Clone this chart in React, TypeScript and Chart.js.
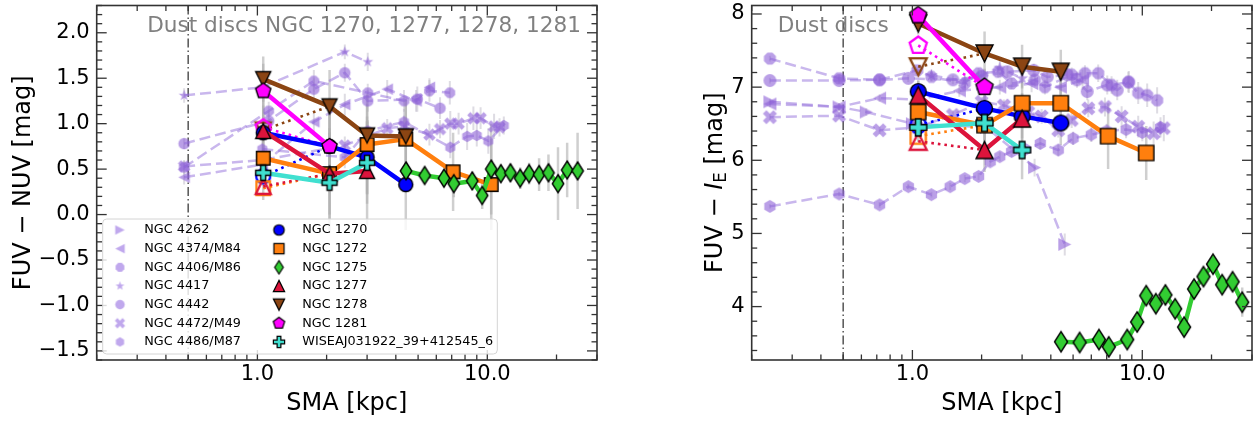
import React, { useEffect, useRef } from 'react';
import { Chart, registerables } from 'chart.js';

Chart.register(...registerables);
Chart.defaults.font.family = '"DejaVu Sans", sans-serif';

// ------------------------------------------------------------------ data
const VIRGO_NAMES = ['NGC 4262', 'NGC 4374/M84', 'NGC 4406/M86', 'NGC 4417', 'NGC 4442', 'NGC 4472/M49', 'NGC 4486/M87'];
const DUST_NAMES = ['NGC 1270', 'NGC 1272', 'NGC 1275', 'NGC 1277', 'NGC 1278', 'NGC 1281', 'WISEAJ031922_39+412545_6'];

const LEFT_TITLE = 'Dust discs NGC 1270, 1277, 1278, 1281';
const RIGHT_TITLE = 'Dust discs';
const X_TITLE = 'SMA [kpc]';

const SMA_LIMITS = [0.2, 30];
const SMA_MAJOR = [1, 10];
const SMA_MINOR = [0.2, 0.3, 0.4, 0.5, 0.6, 0.7, 0.8, 0.9, 2, 3, 4, 5, 6, 7, 8, 9, 20, 30];
const PSF_SMA = 0.5;

const NUV_LIMITS = [-1.6, 2.3];
const NUV_MAJOR = [-1.5, -1.0, -0.5, 0.0, 0.5, 1.0, 1.5, 2.0];
const IE_LIMITS = [3.27, 8.116];
const IE_MAJOR = [4, 5, 6, 7, 8];

// dust-disc galaxies (shared radii)
const SMA_DUST = [1.06, 2.06, 3.0, 4.42, 7.1, 10.4];
const SMA_1275 = [4.43, 5.34, 6.48, 7.15, 8.6, 9.5, 10.4, 11.45, 12.6, 13.9, 15.2, 16.8, 18.45, 20.3, 22.25, 24.7, 27.2];

// FUV - NUV
const NUV_1270 = [0.90, 0.75, 0.63, 0.33];
const NUV_1272 = [0.62, 0.45, 0.77, 0.83, 0.47, 0.33];
const NUV_1275 = [0.48, 0.43, 0.40, 0.34, 0.37, 0.21, 0.50, 0.45, 0.46, 0.40, 0.45, 0.44, 0.46, 0.34, 0.49, 0.48, null];
const NUV_1277 = [0.92, 0.45, 0.48];
const NUV_1278 = [1.49, 1.19, 0.87, 0.86];
const NUV_1281 = [1.36, 0.75];
const NUV_WISEA = [0.46, 0.35, 0.57];
const NUV_INNER = [0.42, 0.29, null, 0.31, 0.93, 0.96, null];

const NUV_ERR_1270 = [0.30, 0.45, 0.40, 0.50];
const NUV_ERR_1272 = [0.30, 0.45, 0.55, 0.45, 0.43, 0.50];
const NUV_ERR_1275 = [0.10, 0.08, 0.10, 0.15, 0.10, 0.15, 0.50, 0.10, 0.10, 0.12, 0.12, 0.18, 0.20, 0.40, 0.30, 0.42, null];
const NUV_ERR_1277 = [0.35, 0.50, 0.60];
const NUV_ERR_1278 = [0.25, 0.40, 0.35, 0.40];
const NUV_ERR_1281 = [0.30, 0.45];
const NUV_ERR_WISEA = [0.30, 0.55, 0.45];

// FUV - I_E
const IE_1270 = [6.94, 6.71, 6.60, 6.51];
const IE_1272 = [6.66, 6.48, 6.78, 6.78, 6.33, 6.10];
const IE_1275 = [3.52, 3.51, 3.55, 3.45, 3.55, 3.79, 4.15, 4.04, 4.16, 3.97, 3.72, 4.24, 4.41, 4.58, 4.30, 4.34, 4.06];
const IE_1277 = [6.89, 6.14, 6.57];
const IE_1278 = [7.87, 7.46, 7.28, 7.21];
const IE_1281 = [7.98, 7.00];
const IE_WISEA = [6.45, 6.51, 6.14];
const IE_INNER = [6.48, 6.33, null, 6.26, 7.28, 7.57, null];

const IE_ERR_1270 = [0.15, 0.25, 0.30, 0.30];
const IE_ERR_1272 = [0.15, 0.25, 0.30, 0.35, 0.45, 0.37];
const IE_ERR_1275 = [0.03, 0.03, 0.04, 0.03, 0.04, 0.05, 0.05, 0.04, 0.05, 0.05, 0.06, 0.08, 0.10, 0.12, 0.10, 0.12, 0.20];
const IE_ERR_1277 = [0.20, 0.30, 0.35];
const IE_ERR_1278 = [0.15, 0.30, 0.30, 0.30];
const IE_ERR_1281 = [0.10, 0.25];
const IE_ERR_WISEA = [0.20, 0.30, 0.40];

// Virgo comparison galaxies, FUV - NUV
const L_SMA_4262: number[] = [];
const L_NUV_4262: number[] = [];
const L_ERR_4262: number[] = [];
const L_SMA_4374 = [0.48, 1.05, 1.76, 2.4, 3.67, 4.9, 5.6];
const L_NUV_4374 = [0.41, 0.55, 1.02, 1.21, 1.38, 1.25, 1.40];
const L_ERR_4374 = [0.08, 0.10, 0.12, 0.12, 0.10, 0.12, 0.10];
const L_SMA_4406 = [0.48, 1.12, 1.76, 3.02, 4.34, 5.6, 6.87];
const L_NUV_4406 = [0.52, 1.14, 1.47, 1.34, 1.25, 1.36, 1.34];
const L_ERR_4406 = [0.08, 0.10, 0.12, 0.10, 0.12, 0.12, 0.13];
const L_SMA_4417 = [0.48, 1.05, 2.4, 3.02];
const L_NUV_4417 = [1.31, 1.40, 1.79, 1.68];
const L_ERR_4417 = [0.08, 0.10, 0.08, 0.10];
const L_SMA_4442 = [0.48, 1.12, 1.76, 2.4, 3.02, 4.96, 6.23];
const L_NUV_4442 = [0.78, 1.03, 1.38, 1.56, 1.25, 1.27, 1.17];
const L_ERR_4442 = [0.06, 0.10, 0.12, 0.10, 0.12, 0.14, 0.12];
const L_SMA_4472 = [0.48, 1.05, 2.4, 3.67, 4.34, 5.6, 6.23, 6.9, 7.5, 8.7, 9.35, 10.7, 11.3];
const L_NUV_4472 = [0.53, 0.60, 0.76, 0.95, 0.97, 0.88, 0.94, 1.00, 1.00, 1.06, 1.06, 0.97, 0.96];
const L_ERR_4472 = [0.06, 0.08, 0.10, 0.10, 0.12, 0.12, 0.10, 0.14, 0.12, 0.13, 0.12, 0.14, 0.10];
const L_SMA_4486 = [1.05, 2.4, 3.02, 4.34, 6.9, 8.17, 9.0, 10.1, 11.8];
const L_NUV_4486 = [0.72, 0.63, 0.92, 1.02, 0.74, 0.86, 0.87, 0.81, 0.98];
const L_ERR_4486 = [0.10, 0.12, 0.12, 0.14, 0.12, 0.15, 0.12, 0.14, 0.10];

// Virgo comparison galaxies, FUV - I_E
const R_SMA_4262 = [0.24, 0.48, 0.63, 1.0, 2.1, 3.4, 4.6];
const R_IE_4262 = [6.80, 6.73, 6.66, 6.50, 6.45, 5.90, 4.85];
const R_ERR_4262 = [0.04, 0.05, 0.05, 0.06, 0.08, 0.12, 0.15];
const R_SMA_4374 = [0.24, 0.48, 0.72, 1.05, 1.6, 2.4, 3.3, 4.4, 5.5];
const R_IE_4374 = [6.77, 6.73, 6.85, 6.83, 6.95, 7.00, 7.05, 7.00, 7.10];
const R_ERR_4374 = [0.04, 0.05, 0.05, 0.06, 0.08, 0.10, 0.12, 0.12, 0.14];
const R_SMA_4406 = [0.24, 0.48, 0.72, 1.05, 1.21, 1.69, 1.94, 2.36, 2.7, 3.41, 3.77, 4.93, 5.63, 6.43, 7.35, 8.69, 9.6, 10.5, 11.6];
const R_IE_4406 = [7.39, 7.12, 7.10, 7.23, 7.14, 7.05, 7.19, 7.21, 7.05, 7.10, 7.00, 7.17, 7.19, 7.19, 7.03, 7.07, 6.92, 6.89, 6.82];
const R_ERR_4406 = [0.04, 0.04, 0.05, 0.05, 0.06, 0.06, 0.07, 0.08, 0.08, 0.09, 0.10, 0.10, 0.11, 0.12, 0.12, 0.14, 0.15, 0.16, 0.18];
const R_SMA_4417 = [1.21, 1.69, 2.4, 3.0];
const R_IE_4417 = [7.16, 7.08, 7.26, 7.12];
const R_ERR_4417 = [0.08, 0.10, 0.12, 0.12];
const R_SMA_4442 = [0.24, 0.48, 0.72, 0.96, 1.5, 2.0, 2.59, 3.37, 3.86, 4.71, 5.2, 5.76, 7.04, 7.78, 8.74];
const R_IE_4442 = [7.09, 7.09, 7.10, 7.12, 7.10, 7.15, 7.21, 7.23, 7.14, 7.17, 7.10, 6.94, 7.03, 6.96, 7.07];
const R_ERR_4442 = [0.04, 0.04, 0.05, 0.05, 0.06, 0.07, 0.08, 0.09, 0.10, 0.10, 0.11, 0.12, 0.13, 0.14, 0.15];
const R_SMA_4472 = [0.24, 0.48, 0.72, 1.05, 1.5, 2.0, 2.5, 3.19, 3.65, 4.31, 4.93, 5.82, 6.88, 8.13, 9.6, 11.2, 12.4];
const R_IE_4472 = [6.59, 6.61, 6.41, 6.45, 6.62, 6.80, 6.75, 6.66, 6.60, 6.41, 6.55, 6.71, 6.73, 6.60, 6.46, 6.37, 6.44];
const R_ERR_4472 = [0.04, 0.04, 0.05, 0.05, 0.06, 0.07, 0.08, 0.09, 0.10, 0.10, 0.11, 0.12, 0.13, 0.14, 0.15, 0.16, 0.18];
const R_SMA_4486 = [0.24, 0.48, 0.72, 0.96, 1.21, 1.46, 1.69, 1.94, 2.18, 2.4, 2.7, 3.1, 3.6, 4.31, 5.0, 6.0, 7.0, 8.5, 10.0, 12.0];
const R_IE_4486 = [5.37, 5.54, 5.39, 5.64, 5.53, 5.64, 5.75, 5.78, 5.98, 6.05, 6.12, 6.15, 6.23, 6.14, 6.30, 6.35, 6.40, 6.42, 6.38, 6.45];
const R_ERR_4486 = [0.03, 0.03, 0.04, 0.04, 0.04, 0.05, 0.05, 0.05, 0.06, 0.06, 0.07, 0.07, 0.08, 0.08, 0.09, 0.10, 0.10, 0.12, 0.12, 0.14];

// ------------------------------------------------------------------ styles
const VIRGO_SHAPES = ['triRight', 'triLeft', 'octagon', 'star', 'circle', 'xfill', 'hexagon'];
const DUST_STYLE = [
  { shape: 'circle', color: '#0000FF', w: 14, h: 14 },
  { shape: 'square', color: '#FF7F0E', w: 13.5, h: 13.5 },
  { shape: 'diamond', color: '#32CD32', w: 11.5, h: 18 },
  { shape: 'triUp', color: '#DC143C', w: 15, h: 15 },
  { shape: 'triDown', color: '#8B4513', w: 15, h: 15 },
  { shape: 'pentagon', color: '#FF00FF', w: 16, h: 16 },
  { shape: 'plus', color: '#40E0D0', w: 15, h: 15 },
];
const PURPLE_FILL = 'rgba(140,95,215,0.6)';
const PURPLE_LINE = 'rgba(147,112,219,0.5)';
const ERR_COLOR = 'rgba(175,175,175,0.6)';
const VIRGO_ERR_COLOR = 'rgba(190,185,200,0.5)';
const FONT = '"DejaVu Sans", sans-serif';

// ------------------------------------------------------------------ markers
function tracePath(ctx: CanvasRenderingContext2D, shape: string, w: number, h: number) {
  ctx.beginPath();
  const poly = (pts: number[][]) => {
    ctx.moveTo(pts[0][0], pts[0][1]);
    for (let i = 1; i < pts.length; i++) ctx.lineTo(pts[i][0], pts[i][1]);
    ctx.closePath();
  };
  const reg = (n: number, r: number, rot: number) => {
    const pts: number[][] = [];
    for (let k = 0; k < n; k++) {
      const t = -Math.PI / 2 + rot + (k * 2 * Math.PI) / n;
      pts.push([r * Math.cos(t), r * Math.sin(t)]);
    }
    poly(pts);
  };
  switch (shape) {
    case 'circle': ctx.arc(0, 0, w / 2, 0, Math.PI * 2); ctx.closePath(); break;
    case 'square': ctx.rect(-w / 2, -h / 2, w, h); break;
    case 'diamond': poly([[0, -h / 2], [w / 2, 0], [0, h / 2], [-w / 2, 0]]); break;
    case 'triUp': poly([[0, -h / 2], [w / 2, h / 2], [-w / 2, h / 2]]); break;
    case 'triDown': poly([[0, h / 2], [w / 2, -h / 2], [-w / 2, -h / 2]]); break;
    case 'triLeft': poly([[-w / 2, 0], [w / 2, -h / 2], [w / 2, h / 2]]); break;
    case 'triRight': poly([[w / 2, 0], [-w / 2, -h / 2], [-w / 2, h / 2]]); break;
    case 'pentagon': reg(5, w / 2, 0); break;
    case 'hexagon': reg(6, w / 2, 0); break;
    case 'octagon': reg(8, w / 2, Math.PI / 8); break;
    case 'star': {
      const pts: number[][] = [];
      for (let k = 0; k < 10; k++) {
        const r = k % 2 === 0 ? w / 2 : (w / 2) * 0.4;
        const t = -Math.PI / 2 + (k * Math.PI) / 5;
        pts.push([r * Math.cos(t), r * Math.sin(t)]);
      }
      poly(pts);
      break;
    }
    default: {
      const a = w / 6, b = w / 2;
      let pts = [[-a, -b], [a, -b], [a, -a], [b, -a], [b, a], [a, a], [a, b], [-a, b], [-a, a], [-b, a], [-b, -a], [-a, -a]];
      if (shape === 'xfill') {
        const c = Math.SQRT1_2 * 1.15;
        pts = pts.map(([x, y]) => [c * (x - y), c * (x + y)]);
      }
      poly(pts);
    }
  }
}

function markerCanvas(shape: string, w: number, h: number, fill: string | null, stroke: string | null, lw: number) {
  const size = Math.ceil(Math.max(w, h) * 1.1 + lw + 4);
  const c = document.createElement('canvas');
  c.width = size; c.height = size;
  const ctx = c.getContext('2d')!;
  ctx.translate(size / 2, size / 2);
  ctx.lineJoin = 'miter';
  tracePath(ctx, shape, w, h);
  if (fill) { ctx.fillStyle = fill; ctx.fill(); }
  if (stroke && lw > 0) { ctx.strokeStyle = stroke; ctx.lineWidth = lw; ctx.stroke(); }
  return c;
}

// ------------------------------------------------------------------ panels
const LEFT_PANEL = {
  width: 630, plotLeft: 96.7, plotRight: 597, top: 5.5, bottom: 360,
  yLimits: NUV_LIMITS, yMajor: NUV_MAJOR, yMinorStep: 0.1, yDecimals: 1,
  markerScale: 1, title: LEFT_TITLE, titleDx: 50.5, yTitleX: 30,
  yTitle: [{ t: 'FUV \u2212 NUV [mag]', f: `24px ${FONT}`, dy: 0 }],
  legend: true,
  virgo: [
    { xs: L_SMA_4262, ys: L_NUV_4262, errs: L_ERR_4262 },
    { xs: L_SMA_4374, ys: L_NUV_4374, errs: L_ERR_4374 },
    { xs: L_SMA_4406, ys: L_NUV_4406, errs: L_ERR_4406 },
    { xs: L_SMA_4417, ys: L_NUV_4417, errs: L_ERR_4417 },
    { xs: L_SMA_4442, ys: L_NUV_4442, errs: L_ERR_4442 },
    { xs: L_SMA_4472, ys: L_NUV_4472, errs: L_ERR_4472 },
    { xs: L_SMA_4486, ys: L_NUV_4486, errs: L_ERR_4486 },
  ],
  dust: [
    { xs: SMA_DUST, ys: NUV_1270, errs: NUV_ERR_1270 },
    { xs: SMA_DUST, ys: NUV_1272, errs: NUV_ERR_1272 },
    { xs: SMA_1275, ys: NUV_1275, errs: NUV_ERR_1275 },
    { xs: SMA_DUST, ys: NUV_1277, errs: NUV_ERR_1277 },
    { xs: SMA_DUST, ys: NUV_1278, errs: NUV_ERR_1278 },
    { xs: SMA_DUST, ys: NUV_1281, errs: NUV_ERR_1281 },
    { xs: SMA_DUST, ys: NUV_WISEA, errs: NUV_ERR_WISEA },
  ],
  inner: NUV_INNER,
};

const RIGHT_PANEL = {
  width: 629, plotLeft: 121.7, plotRight: 622, top: 5.5, bottom: 360,
  yLimits: IE_LIMITS, yMajor: IE_MAJOR, yMinorStep: 0.2, yDecimals: 0,
  markerScale: 1.13, title: RIGHT_TITLE, titleDx: 26, yTitleX: 92,
  yTitle: [
    { t: 'FUV \u2212 ', f: `24px ${FONT}`, dy: 0 },
    { t: 'I', f: `italic 24px ${FONT}`, dy: 0 },
    { t: 'E', f: `16.8px ${FONT}`, dy: 4 },
    { t: ' [mag]', f: `24px ${FONT}`, dy: 0 },
  ],
  legend: false,
  virgo: [
    { xs: R_SMA_4262, ys: R_IE_4262, errs: R_ERR_4262 },
    { xs: R_SMA_4374, ys: R_IE_4374, errs: R_ERR_4374 },
    { xs: R_SMA_4406, ys: R_IE_4406, errs: R_ERR_4406 },
    { xs: R_SMA_4417, ys: R_IE_4417, errs: R_ERR_4417 },
    { xs: R_SMA_4442, ys: R_IE_4442, errs: R_ERR_4442 },
    { xs: R_SMA_4472, ys: R_IE_4472, errs: R_ERR_4472 },
    { xs: R_SMA_4486, ys: R_IE_4486, errs: R_ERR_4486 },
  ],
  dust: [
    { xs: SMA_DUST, ys: IE_1270, errs: IE_ERR_1270 },
    { xs: SMA_DUST, ys: IE_1272, errs: IE_ERR_1272 },
    { xs: SMA_1275, ys: IE_1275, errs: IE_ERR_1275 },
    { xs: SMA_DUST, ys: IE_1277, errs: IE_ERR_1277 },
    { xs: SMA_DUST, ys: IE_1278, errs: IE_ERR_1278 },
    { xs: SMA_DUST, ys: IE_1281, errs: IE_ERR_1281 },
    { xs: SMA_DUST, ys: IE_WISEA, errs: IE_ERR_WISEA },
  ],
  inner: IE_INNER,
};

function fmtY(v: number, d: number) {
  const s = Math.abs(v).toFixed(d);
  return v < -1e-9 ? '\u2212' + s : s;
}

function buildChart(canvas: HTMLCanvasElement, P: any) {
  const ms = P.markerScale;
  const datasets: any[] = [];

  P.virgo.forEach((v: any, i: number) => {
    const img = markerCanvas(VIRGO_SHAPES[i], 11.5 * ms, 11.5 * ms, PURPLE_FILL, null, 0);
    const data: any[] = [];
    const errs: any[] = [];
    v.xs.forEach((x: number, k: number) => {
      if (v.ys[k] == null) return;
      data.push({ x, y: v.ys[k] });
      errs.push(v.errs[k]);
    });
    datasets.push({
      label: VIRGO_NAMES[i], data, showLine: true,
      borderColor: PURPLE_LINE, borderWidth: 2.5, borderDash: [11, 5],
      pointStyle: img, pointRadius: 5, pointHoverRadius: 5,
      errs, errColor: VIRGO_ERR_COLOR, errWidth: 2,
    });
  });

  P.dust.forEach((d: any, i: number) => {
    const inner = P.inner[i];
    if (inner == null) return;
    const st = DUST_STYLE[i];
    const img = markerCanvas(st.shape, st.w * ms, st.h * ms, null, st.color, 2.3);
    datasets.push({
      label: DUST_NAMES[i] + ' inner',
      data: [{ x: d.xs[0], y: inner }, { x: d.xs[1], y: d.ys[1] }],
      showLine: true, borderColor: st.color, borderWidth: 2.6, borderDash: [2.6, 4],
      pointStyle: img, pointRadius: [6, 0], pointHoverRadius: [6, 0],
    });
  });

  P.dust.forEach((d: any, i: number) => {
    const st = DUST_STYLE[i];
    const img = markerCanvas(st.shape, st.w * ms, st.h * ms, st.color, '#000', 1.4);
    const data: any[] = [];
    const errs: any[] = [];
    d.ys.forEach((y: number | null, k: number) => {
      if (y == null) return;
      data.push({ x: d.xs[k], y });
      errs.push(d.errs[k]);
    });
    datasets.push({
      label: DUST_NAMES[i], data, showLine: true,
      borderColor: st.color, borderWidth: 4.5,
      pointStyle: img, pointRadius: 6, pointHoverRadius: 6,
      errs, errColor: ERR_COLOR, errWidth: 2.5,
    });
  });

  const N = datasets.length;
  datasets.forEach((ds, i) => { ds.order = N - i; });

  const errorBars = {
    id: 'errorBars',
    beforeDatasetsDraw(chart: any) {
      const { ctx, chartArea: a, scales } = chart;
      ctx.save();
      ctx.beginPath();
      ctx.rect(a.left, a.top, a.right - a.left, a.bottom - a.top);
      ctx.clip();
      // PSF line
      const px = scales.x.getPixelForValue(PSF_SMA);
      ctx.strokeStyle = '#5f5f5f';
      ctx.lineWidth = 1.6;
      ctx.setLineDash([9, 3, 1.5, 3]);
      ctx.beginPath(); ctx.moveTo(px, a.top); ctx.lineTo(px, a.bottom); ctx.stroke();
      ctx.setLineDash([]);
      chart.data.datasets.forEach((ds: any) => {
        if (!ds.errs) return;
        ctx.strokeStyle = ds.errColor;
        ctx.lineWidth = ds.errWidth;
        ds.data.forEach((p: any, k: number) => {
          const e = ds.errs[k];
          if (e == null) return;
          const x = scales.x.getPixelForValue(p.x);
          ctx.beginPath();
          ctx.moveTo(x, scales.y.getPixelForValue(p.y - e));
          ctx.lineTo(x, scales.y.getPixelForValue(p.y + e));
          ctx.stroke();
        });
      });
      ctx.restore();
    },
  };

  const frame = {
    id: 'frame',
    afterDatasetsDraw(chart: any) {
      const { ctx, chartArea: a, scales } = chart;
      ctx.save();
      ctx.strokeStyle = '#333';
      ctx.lineWidth = 1.3;
      const seg = (x1: number, y1: number, x2: number, y2: number) => {
        ctx.beginPath(); ctx.moveTo(x1, y1); ctx.lineTo(x2, y2); ctx.stroke();
      };
      const xt = (v: number, len: number) => {
        const p = scales.x.getPixelForValue(v);
        seg(p, a.bottom, p, a.bottom - len);
        seg(p, a.top, p, a.top + len);
      };
      const yt = (v: number, len: number) => {
        const p = scales.y.getPixelForValue(v);
        seg(a.left, p, a.left + len, p);
        seg(a.right, p, a.right - len, p);
      };
      SMA_MAJOR.forEach((v) => xt(v, 10));
      SMA_MINOR.forEach((v) => xt(v, 5.5));
      P.yMajor.forEach((v: number) => yt(v, 10));
      const st = P.yMinorStep;
      for (let k = Math.ceil(P.yLimits[0] / st); k * st <= P.yLimits[1] + 1e-9; k++) {
        const v = k * st;
        if (P.yMajor.some((m: number) => Math.abs(m - v) < 1e-6)) continue;
        yt(v, 5.5);
      }
      ctx.lineWidth = 1.6;
      ctx.strokeRect(a.left, a.top, a.right - a.left, a.bottom - a.top);
      ctx.restore();
    },
  };

  const texts = {
    id: 'texts',
    afterDraw(chart: any) {
      const { ctx, chartArea: a } = chart;
      ctx.save();
      ctx.textBaseline = 'alphabetic';
      ctx.textAlign = 'left';
      ctx.fillStyle = '#808080';
      ctx.font = `21.6px ${FONT}`;
      ctx.fillText(P.title, a.left + P.titleDx, 31.7);
      ctx.fillStyle = '#000';
      ctx.font = `24px ${FONT}`;
      ctx.textAlign = 'center';
      ctx.fillText(X_TITLE, (a.left + a.right) / 2, 410);
      ctx.translate(P.yTitleX, (a.top + a.bottom) / 2);
      ctx.rotate(-Math.PI / 2);
      ctx.textAlign = 'left';
      let total = 0;
      P.yTitle.forEach((p: any) => { ctx.font = p.f; total += ctx.measureText(p.t).width; });
      let x = -total / 2;
      P.yTitle.forEach((p: any) => {
        ctx.font = p.f;
        ctx.fillText(p.t, x, p.dy);
        x += ctx.measureText(p.t).width;
      });
      ctx.restore();
    },
  };

  const legend = {
    id: 'customLegend',
    afterDraw(chart: any) {
      if (!P.legend) return;
      const { ctx } = chart;
      ctx.save();
      ctx.beginPath();
      if ((ctx as any).roundRect) (ctx as any).roundRect(102.7, 219, 394.6, 135, 4);
      else ctx.rect(102.7, 219, 394.6, 135);
      ctx.fillStyle = 'rgba(255,255,255,0.82)';
      ctx.fill();
      ctx.strokeStyle = '#d4d4d4';
      ctx.lineWidth = 1;
      ctx.stroke();
      ctx.font = `12.8px ${FONT}`;
      ctx.textBaseline = 'middle';
      ctx.textAlign = 'left';
      ctx.fillStyle = '#000';
      const row = (k: number) => 230 + k * 18.65;
      VIRGO_NAMES.forEach((name, k) => {
        const img = markerCanvas(VIRGO_SHAPES[k], 9.5, 9.5, 'rgba(150,110,225,0.6)', null, 0);
        ctx.drawImage(img, 120 - img.width / 2, row(k) - img.height / 2);
        ctx.fillText(name, 144.3, row(k));
      });
      DUST_NAMES.forEach((name, k) => {
        const s = DUST_STYLE[k];
        const img = markerCanvas(s.shape, s.w * 0.75, s.h * 0.75, s.color, '#000', 1.2);
        ctx.drawImage(img, 279 - img.width / 2, row(k) - img.height / 2);
        ctx.fillText(name, 302.3, row(k));
      });
      ctx.restore();
    },
  };

  const zeroPad = (s: any) => { s.paddingTop = 0; s.paddingBottom = 0; s.paddingLeft = 0; s.paddingRight = 0; };

  return new Chart(canvas, {
    type: 'scatter',
    data: { datasets },
    options: {
      animation: false,
      responsive: false,
      maintainAspectRatio: false,
      devicePixelRatio: 1,
      events: [],
      layout: { autoPadding: false, padding: { left: 0, right: P.width - P.plotRight, top: P.top, bottom: 0 } },
      plugins: { legend: { display: false }, tooltip: { enabled: false } },
      elements: { line: { tension: 0, borderCapStyle: 'butt', borderJoinStyle: 'round' } },
      scales: {
        x: {
          type: 'logarithmic', position: 'bottom',
          min: SMA_LIMITS[0], max: SMA_LIMITS[1],
          grid: { display: false, drawTicks: false }, border: { display: false },
          afterBuildTicks: (s: any) => { s.ticks = SMA_MAJOR.map((v) => ({ value: v })); },
          afterFit: (s: any) => { s.height = 421 - P.bottom; zeroPad(s); },
          ticks: {
            autoSkip: false, maxRotation: 0, minRotation: 0, padding: 2, color: '#000',
            font: { size: 21, family: FONT, lineHeight: 1.2 },
            callback: (v: any) => Number(v).toFixed(1),
          },
        },
        y: {
          type: 'linear', position: 'left',
          min: P.yLimits[0], max: P.yLimits[1],
          grid: { display: false, drawTicks: false }, border: { display: false },
          afterBuildTicks: (s: any) => { s.ticks = P.yMajor.map((v: number) => ({ value: v })); },
          afterFit: (s: any) => { s.width = P.plotLeft; zeroPad(s); },
          ticks: {
            autoSkip: false, padding: 7, color: '#000',
            font: { size: 21, family: FONT, lineHeight: 1.2 },
            callback: (v: any) => fmtY(Number(v), P.yDecimals),
          },
        },
      },
    } as any,
    plugins: [errorBars, frame, texts, legend],
  });
}

export default function App() {
  const leftRef = useRef<HTMLCanvasElement>(null);
  const rightRef = useRef<HTMLCanvasElement>(null);
  useEffect(() => {
    const c1 = buildChart(leftRef.current!, LEFT_PANEL);
    const c2 = buildChart(rightRef.current!, RIGHT_PANEL);
    return () => { c1.destroy(); c2.destroy(); };
  }, []);
  return (
    <div style={{ position: 'absolute', left: 0, top: 0, width: 1259, height: 421, background: '#fff', overflow: 'hidden' }}>
      <canvas ref={leftRef} width={630} height={421} style={{ position: 'absolute', left: 0, top: 0, width: 630, height: 421 }} />
      <canvas ref={rightRef} width={629} height={421} style={{ position: 'absolute', left: 630, top: 0, width: 629, height: 421 }} />
    </div>
  );
}
